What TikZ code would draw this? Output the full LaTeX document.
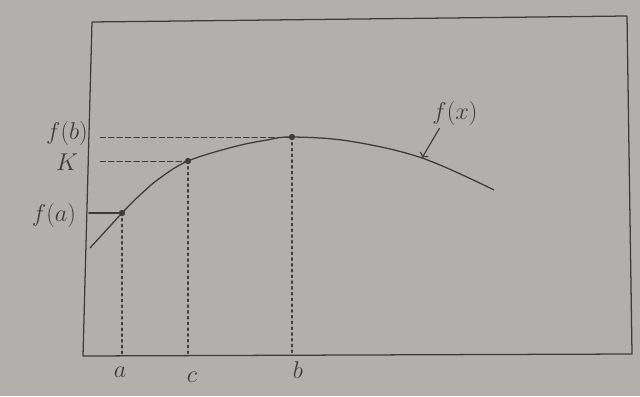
\documentclass[tikz,border=0pt]{standalone}
\usepackage{amsmath, amssymb}
\usepackage{tikz}
\usetikzlibrary{calc}
\usepackage{tkz-euclide}
\definecolor{paper}{RGB}{178,176,172}
\definecolor{ink}{RGB}{62,60,58}

\begin{document}
\begin{tikzpicture}[scale=1]
    % --- 1. 背景與邊界 ---
    \fill[paper] (0,0) rectangle (16,9.9);
    \useasboundingbox (0,0) rectangle (16,9.9);

    % --- 2. 定義外框四角 ---
    \tkzDefPoint(2.075,1.0){O}
    \tkzDefPoint(15.8,1.05){R}
    \tkzDefPoint(15.675,9.5){Q}
    \tkzDefPoint(2.3,9.35){T}
    \tkzDrawPolygon[color=ink,line width=0.9pt](O,R,Q,T)

    % --- 3. 曲線上的點 S, A, C, B, E ---
    \tkzDefPoint(2.25,3.7){S}
    \tkzDefPoint(3.05,4.575){A}
    \tkzDefPoint(4.7,5.875){C}
    \tkzDefPoint(7.3,6.475){B}
    \tkzDefPoint(12.35,5.15){E}
    \draw[ink,line width=0.9pt] (S) -- (A);
    \draw[ink,line width=0.9pt] plot[smooth,tension=0.6] coordinates
      {(A) (3.5,5.025) (4.0,5.45) (C) (5.825,6.225) (6.675,6.4) (B)
       (8.75,6.37) (10.55,5.95) (E)};

    % --- 4. 軸上的投影點 ---
    \tkzDefPoint(2.22,4.575){Ya}
    \tkzDefPoint(2.5,5.875){Yk}
    \tkzDefPoint(2.5,6.475){Yb}
    \tkzDefPoint(3.05,1.0){Xa}
    \tkzDefPoint(4.7,1.02){Xc}
    \tkzDefPoint(7.3,1.03){Xb}

    % --- 5. 繪製虛線與標籤 ---
    \tkzDrawSegments[ink,line width=0.8pt](Ya,A)
    \tkzDrawSegments[ink,dash pattern=on 4pt off 2pt,line width=0.7pt](Yk,C Yb,B)
    \tkzDrawSegments[ink,dash pattern=on 1.5pt off 2.6pt,line width=1.2pt](A,Xa C,Xc B,Xb)
    \tkzDrawPoints[fill=ink,color=ink,size=4](A,C,B)

    \node[ink] (lfb) at (1.675,6.575) {\LARGE $f(b)$};
    \node[ink] (lk)  at (1.675,5.85)  {\LARGE $K$};
    \node[ink] (lfa) at (1.35,4.525)  {\LARGE $f(a)$};
    \node[ink] (la)  at (3.0,0.6)     {\LARGE $a$};
    \node[ink] (lc)  at (4.8,0.475)   {\LARGE $c$};
    \node[ink] (lb)  at (7.45,0.65)   {\LARGE $b$};
    \node[ink] (lfx) at (11.375,7.075) {\LARGE $f(x)$};

    % 箭頭指向曲線
    \tkzDefPoint(10.55,5.95){P}
    \draw[ink,line width=0.8pt,->] (lfx.south west) ++(0.3,0.05) -- (P);

  \end{tikzpicture}
\end{document}
